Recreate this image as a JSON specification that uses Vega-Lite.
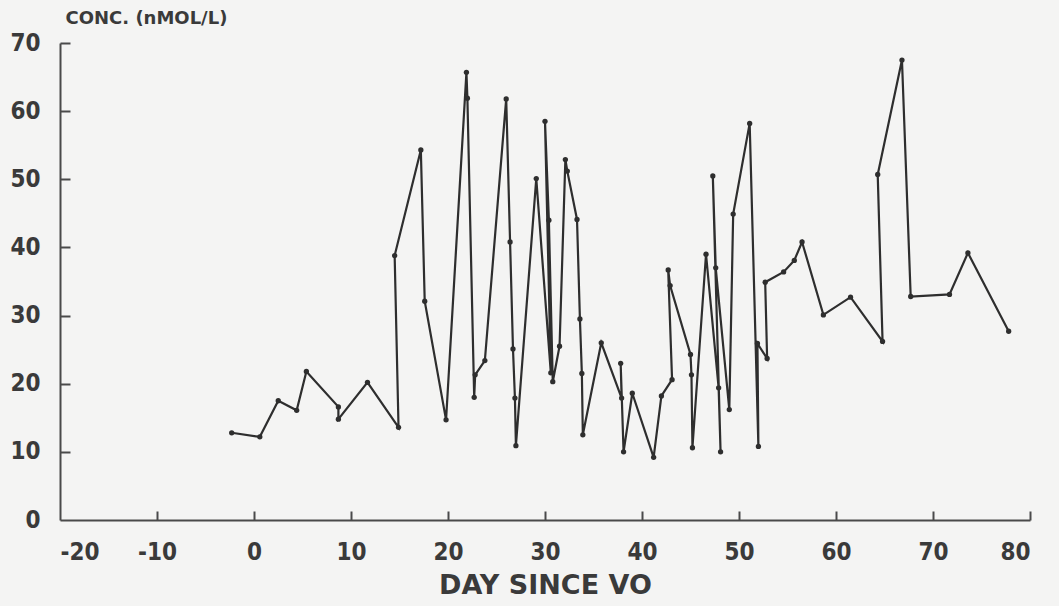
{
  "$schema": "https://vega.github.io/schema/vega-lite/v6.json",
  "width": 970,
  "height": 477,
  "autosize": "none",
  "padding": {"left": 60, "top": 43, "right": 29, "bottom": 86},
  "background": "#f4f4f3",
  "config": {
    "view": {"stroke": null},
    "axis": {"grid": false, "domainColor": "#4a4a4a", "domainWidth": 2, "tickColor": "#4a4a4a", "tickWidth": 2, "labelFont": "DejaVu Sans Condensed", "labelFontWeight": "bold", "labelColor": "#3a3a3a", "titleFont": "DejaVu Sans", "titleFontWeight": "bold", "titleColor": "#3a3a3a"}
  },
  "data": {"values": [
    {"seq": 1, "day": -2.3, "conc": 12.8},
    {"seq": 2, "day": 0.6, "conc": 12.2},
    {"seq": 3, "day": 2.5, "conc": 17.5},
    {"seq": 4, "day": 4.4, "conc": 16.1},
    {"seq": 5, "day": 5.4, "conc": 21.8},
    {"seq": 6, "day": 8.7, "conc": 16.6},
    {"seq": 7, "day": 8.7, "conc": 14.8},
    {"seq": 8, "day": 11.7, "conc": 20.2},
    {"seq": 9, "day": 14.9, "conc": 13.6},
    {"seq": 10, "day": 14.5, "conc": 38.8},
    {"seq": 11, "day": 17.2, "conc": 54.3},
    {"seq": 12, "day": 17.6, "conc": 32.1},
    {"seq": 13, "day": 19.8, "conc": 14.7},
    {"seq": 14, "day": 21.9, "conc": 65.7},
    {"seq": 15, "day": 22.0, "conc": 61.9},
    {"seq": 16, "day": 22.7, "conc": 18.0},
    {"seq": 17, "day": 22.8, "conc": 21.3},
    {"seq": 18, "day": 23.8, "conc": 23.4},
    {"seq": 19, "day": 26.0, "conc": 61.8},
    {"seq": 20, "day": 26.4, "conc": 40.8},
    {"seq": 21, "day": 26.7, "conc": 25.1},
    {"seq": 22, "day": 26.9, "conc": 17.9},
    {"seq": 23, "day": 27.0, "conc": 10.9},
    {"seq": 24, "day": 29.1, "conc": 50.1},
    {"seq": 25, "day": 30.6, "conc": 21.6},
    {"seq": 26, "day": 30.0, "conc": 58.5},
    {"seq": 27, "day": 30.4, "conc": 44.0},
    {"seq": 28, "day": 30.8, "conc": 20.3},
    {"seq": 29, "day": 31.5, "conc": 25.5},
    {"seq": 30, "day": 32.1, "conc": 52.9},
    {"seq": 31, "day": 32.3, "conc": 51.2},
    {"seq": 32, "day": 33.3, "conc": 44.1},
    {"seq": 33, "day": 33.6, "conc": 29.5},
    {"seq": 34, "day": 33.8, "conc": 21.5},
    {"seq": 35, "day": 33.9, "conc": 12.5},
    {"seq": 36, "day": 35.8, "conc": 26.0},
    {"seq": 37, "day": 37.9, "conc": 17.9},
    {"seq": 38, "day": 37.8, "conc": 23.0},
    {"seq": 39, "day": 38.1, "conc": 10.0},
    {"seq": 40, "day": 39.0, "conc": 18.6},
    {"seq": 41, "day": 41.2, "conc": 9.2},
    {"seq": 42, "day": 42.0, "conc": 18.2},
    {"seq": 43, "day": 43.1, "conc": 20.6},
    {"seq": 44, "day": 42.7, "conc": 36.7},
    {"seq": 45, "day": 42.9, "conc": 34.4},
    {"seq": 46, "day": 45.0, "conc": 24.3},
    {"seq": 47, "day": 45.1, "conc": 21.3},
    {"seq": 48, "day": 45.2, "conc": 10.6},
    {"seq": 49, "day": 46.6, "conc": 39.0},
    {"seq": 50, "day": 47.9, "conc": 19.4},
    {"seq": 51, "day": 48.1, "conc": 10.0},
    {"seq": 52, "day": 47.3, "conc": 50.5},
    {"seq": 53, "day": 47.6, "conc": 37.0},
    {"seq": 54, "day": 49.0, "conc": 16.2},
    {"seq": 55, "day": 49.4, "conc": 44.9},
    {"seq": 56, "day": 51.1, "conc": 58.2},
    {"seq": 57, "day": 52.0, "conc": 10.8},
    {"seq": 58, "day": 51.9, "conc": 25.9},
    {"seq": 59, "day": 52.9, "conc": 23.7},
    {"seq": 60, "day": 52.7, "conc": 34.9},
    {"seq": 61, "day": 54.6, "conc": 36.4},
    {"seq": 62, "day": 55.7, "conc": 38.1},
    {"seq": 63, "day": 56.5, "conc": 40.8},
    {"seq": 64, "day": 58.7, "conc": 30.1},
    {"seq": 65, "day": 61.5, "conc": 32.7},
    {"seq": 66, "day": 64.8, "conc": 26.2},
    {"seq": 67, "day": 64.3, "conc": 50.7},
    {"seq": 68, "day": 66.8, "conc": 67.5},
    {"seq": 69, "day": 67.7, "conc": 32.8},
    {"seq": 70, "day": 71.7, "conc": 33.1},
    {"seq": 71, "day": 73.6, "conc": 39.2},
    {"seq": 72, "day": 77.8, "conc": 27.7}
  ]},
  "layer": [
    {
      "mark": {"type": "line", "color": "#2e2e2e", "strokeWidth": 2.2},
      "encoding": {
        "x": {"field": "day", "type": "quantitative", "scale": {"domain": [-20, 80], "nice": false, "zero": false},
          "axis": {"orient": "bottom", "values": [-20, -10, 0, 10, 20, 30, 40, 50, 60, 70, 80], "labelExpr": "replace(datum.label, '\u2212', '-')", "ticks": false, "labelPadding": 20, "labelFontSize": 24, "title": "DAY SINCE VO", "titleFontSize": 27, "titlePadding": 8}},
        "y": {"field": "conc", "type": "quantitative", "scale": {"domain": [0, 70], "nice": false},
          "axis": {"orient": "left", "values": [0, 10, 20, 30, 40, 50, 60, 70], "ticks": false, "labelPadding": 20, "labelFontSize": 24, "title": "CONC. (nMOL/L)", "titleFontSize": 18, "titleAngle": 0, "titleAlign": "left", "titleBaseline": "middle", "titleX": 5, "titleY": -25}},
        "order": {"field": "seq", "type": "quantitative"}
      }
    },
    {
      "mark": {"type": "point", "filled": true, "color": "#2e2e2e", "size": 28, "opacity": 1},
      "encoding": {
        "x": {"field": "day", "type": "quantitative", "scale": {"domain": [-20, 80], "nice": false, "zero": false},
          "axis": {"orient": "top", "offset": -477, "values": [-10, 0, 10, 20, 30, 40, 50, 60, 70, 80], "labels": false, "domain": false, "title": null, "tickSize": 9}},
        "y": {"field": "conc", "type": "quantitative", "scale": {"domain": [0, 70], "nice": false},
          "axis": {"orient": "right", "offset": -970, "values": [10, 20, 30, 40, 50, 60, 70], "labels": false, "domain": false, "title": null, "tickSize": 10}}
      }
    }
  ],
  "resolve": {"axis": {"x": "independent", "y": "independent"}}
}
